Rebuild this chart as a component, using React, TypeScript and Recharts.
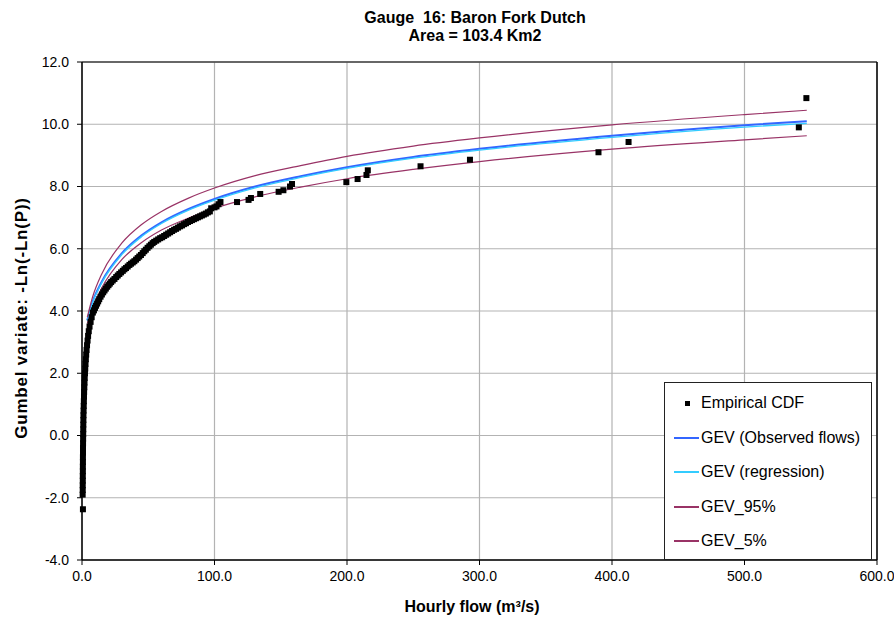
import React from "react"
import {
  ComposedChart,
  Line,
  Scatter,
  XAxis,
  YAxis,
  CartesianGrid,
  ReferenceLine,
  Legend,
} from "recharts"

// Empirical CDF (flow m3/s vs Gumbel variate)
// near-vertical part close to zero flow
const lowFlow = [
  0.7, 0.5, 0.55, 0.55, 0.6, 0.6, 0.65, 0.65, 0.7, 0.7, 0.75, 0.75, 0.8, 0.85, 0.9, 0.95, 1.0,
  1.05, 1.1, 1.2, 1.3, 1.4, 1.5, 1.6, 1.75, 1.9, 2.05, 2.25, 2.45, 2.65, 2.9, 3.15, 3.45, 3.8,
  4.2, 4.6, 5.1, 5.7, 6.5, 7.3,
]
const lowGumbel = [
  -2.37, -1.9, -1.75, -1.6, -1.45, -1.3, -1.15, -1.0, -0.85, -0.7, -0.55, -0.4, -0.25, -0.1,
  0.05, 0.2, 0.35, 0.5, 0.65, 0.8, 0.95, 1.1, 1.25, 1.4, 1.55, 1.7, 1.85, 2.0, 2.15, 2.3, 2.45,
  2.6, 2.75, 2.9, 3.05, 3.2, 3.35, 3.5, 3.65, 3.8,
]
// the bend, up to ~105 m3/s
const midFlow = [
  8.2, 9, 9.8, 10.6, 11.4, 12.2, 13, 14, 15, 16, 17, 18, 19, 20, 21, 22, 23.2, 24.5, 25.8, 27,
  28.2, 29.5, 30.8, 32, 33.2, 34.5, 35.8, 37, 38.3, 39.5, 40.8, 42, 43.2, 44.5, 45.8, 47, 48.2,
  49.5, 50.8, 52, 53.3, 54.5, 56, 57.5, 59, 60.5, 62, 63.5, 65, 66.5, 68, 69.5, 71, 72.5, 74,
  75.5, 77, 78.5, 80, 81.5, 83, 84.5, 86, 87.5, 89, 90.5, 92, 93.5, 95, 96.5, 97.5, 100, 101.5,
  103, 104.5,
]
const midGumbel = [
  3.95, 4.02, 4.1, 4.17, 4.24, 4.31, 4.38, 4.46, 4.53, 4.6, 4.66, 4.72, 4.78, 4.83, 4.88, 4.93,
  4.98, 5.03, 5.09, 5.14, 5.19, 5.24, 5.29, 5.34, 5.38, 5.43, 5.48, 5.52, 5.56, 5.6, 5.65, 5.7,
  5.75, 5.8, 5.86, 5.92, 5.97, 6.03, 6.08, 6.13, 6.18, 6.22, 6.26, 6.3, 6.34, 6.37, 6.41, 6.45,
  6.49, 6.53, 6.57, 6.61, 6.64, 6.68, 6.72, 6.75, 6.79, 6.82, 6.86, 6.89, 6.92, 6.95, 6.98,
  7.01, 7.04, 7.07, 7.1, 7.13, 7.17, 7.2, 7.3, 7.33, 7.36, 7.43, 7.5,
]
// isolated large events
const highFlow = [
  117, 125.7, 127.5, 134.5, 148.4, 152, 157, 158.5, 199.5, 208, 214.7, 215.7, 255.5, 292.8,
  389.8, 412.5, 541, 546.7,
]
const highGumbel = [
  7.5, 7.57, 7.63, 7.76, 7.83, 7.88, 8.0, 8.08, 8.14, 8.24, 8.37, 8.52, 8.65, 8.86, 9.1, 9.43,
  9.9, 10.84,
]

// fitted GEV curves
const gevFlow = [4, 8, 15, 30, 45, 60, 80, 100, 130, 165, 200, 250, 300, 400, 500, 547]
const gevObserved = [3.7, 4.3, 4.95, 5.85, 6.43, 6.85, 7.27, 7.6, 7.99, 8.33, 8.62, 8.95, 9.21, 9.63, 9.97, 10.1]
const gevRegression = [3.68, 4.27, 4.91, 5.81, 6.39, 6.81, 7.23, 7.56, 7.95, 8.29, 8.58, 8.91, 9.17, 9.58, 9.91, 10.03]
const gev95 = [3.8, 4.45, 5.2, 6.18, 6.78, 7.2, 7.62, 7.95, 8.34, 8.67, 8.97, 9.3, 9.56, 9.98, 10.31, 10.45]
const gev5 = [3.6, 4.1, 4.75, 5.65, 6.2, 6.6, 6.98, 7.3, 7.66, 7.98, 8.25, 8.55, 8.8, 9.2, 9.5, 9.63]

const xTicks = [0, 100, 200, 300, 400, 500, 600]
const yTicks = [-4, -2, 0, 2, 4, 6, 8, 10, 12]
const legendOrder = ["Empirical CDF", "GEV (Observed flows)", "GEV (regression)", "GEV_95%", "GEV_5%"]

const empData = [
  ...lowFlow.map((f, i) => ({ flow: f, g: lowGumbel[i] })),
  ...midFlow.map((f, i) => ({ flow: f, g: midGumbel[i] })),
  ...highFlow.map((f, i) => ({ flow: f, g: highGumbel[i] })),
]
const gevData = gevFlow.map((f, i) => ({
  flow: f,
  obs: gevObserved[i],
  reg: gevRegression[i],
  p95: gev95[i],
  p5: gev5[i],
}))

const font = "'Liberation Sans', Arial, sans-serif"

const SquareDot = (props: any) => (
  <rect x={props.cx - 3} y={props.cy - 3} width={6} height={6} fill="#000" />
)

const renderLegend = (props: any) => {
  const items = [...(props.payload || [])].sort(
    (a: any, b: any) => legendOrder.indexOf(a.value) - legendOrder.indexOf(b.value)
  )
  return (
    <div
      style={{
        width: 206,
        height: 173,
        border: "1px solid #222",
        background: "#fff",
        paddingTop: 3,
        fontFamily: font,
        fontSize: 16,
        boxSizing: "content-box",
      }}
    >
      {items.map((it: any) => (
        <div key={it.value} style={{ height: 34.5, display: "flex", alignItems: "center" }}>
          <div style={{ width: 36, position: "relative", height: 10 }}>
            {it.type === "square" ? (
              <div style={{ position: "absolute", left: 20, top: 2.5, width: 5, height: 5, background: "#000" }} />
            ) : (
              <div style={{ position: "absolute", left: 9, top: 4, width: 25, height: 2, background: it.color }} />
            )}
          </div>
          <span style={{ color: "#000", whiteSpace: "nowrap" }}>{it.value}</span>
        </div>
      ))}
    </div>
  )
}

export default function App() {
  return (
    <div style={{ position: "absolute", left: 0, top: 0, width: 894, height: 621, background: "#fff" }}>
      <div
        style={{
          position: "absolute",
          left: 275,
          top: 9,
          width: 400,
          textAlign: "center",
          fontFamily: font,
          fontWeight: "bold",
          fontSize: 16,
          lineHeight: "18px",
          whiteSpace: "pre",
        }}
      >
        {"Gauge  16: Baron Fork Dutch\nArea = 103.4 Km2"}
      </div>
      <ComposedChart
        width={894}
        height={621}
        data={gevData}
        margin={{ top: 62, right: 17, bottom: 0, left: 22 }}
      >
        <CartesianGrid stroke="#b3b3b3" strokeWidth={1.2} />
        <XAxis
          type="number"
          dataKey="flow"
          domain={[0, 600]}
          ticks={xTicks}
          tickFormatter={(v: number) => v.toFixed(1)}
          height={61}
          tick={{ fill: "#000", fontSize: 14, fontFamily: font }}
          tickSize={5}
          tickMargin={6}
          axisLine={{ stroke: "#000", strokeWidth: 1.5 }}
          tickLine={{ stroke: "#000" }}
        />
        <YAxis
          type="number"
          domain={[-4, 12]}
          ticks={yTicks}
          tickFormatter={(v: number) => v.toFixed(1)}
          width={60}
          tick={{ fill: "#000", fontSize: 14, fontFamily: font }}
          tickSize={5}
          tickMargin={8}
          axisLine={{ stroke: "#000", strokeWidth: 1.5 }}
          tickLine={{ stroke: "#000" }}
        />
        <ReferenceLine y={12} stroke="#404040" strokeWidth={1.5} />
        <ReferenceLine x={600} stroke="#000" strokeWidth={1.5} />
        <Scatter
          name="Empirical CDF"
          data={empData}
          dataKey="g"
          fill="#000"
          shape={SquareDot}
          legendType="square"
          isAnimationActive={false}
        />
        <Line
          name="GEV (Observed flows)"
          dataKey="obs"
          type="monotone"
          stroke="#3366ff"
          strokeWidth={2}
          dot={false}
          legendType="line"
          isAnimationActive={false}
        />
        <Line
          name="GEV (regression)"
          dataKey="reg"
          type="monotone"
          stroke="#33ccff"
          strokeWidth={1.3}
          dot={false}
          legendType="line"
          isAnimationActive={false}
        />
        <Line
          name="GEV_95%"
          dataKey="p95"
          type="monotone"
          stroke="#993366"
          strokeWidth={1.2}
          dot={false}
          legendType="line"
          isAnimationActive={false}
        />
        <Line
          name="GEV_5%"
          dataKey="p5"
          type="monotone"
          stroke="#993366"
          strokeWidth={1.2}
          dot={false}
          legendType="line"
          isAnimationActive={false}
        />
        <Legend
          layout="vertical"
          align="center"
          verticalAlign="middle"
          content={renderLegend}
          wrapperStyle={{ left: 664, top: 382, width: 208, height: 177 }}
        />
      </ComposedChart>
      <div
        style={{
          position: "absolute",
          left: 272,
          top: 598,
          width: 400,
          textAlign: "center",
          fontFamily: font,
          fontWeight: "bold",
          fontSize: 16,
          lineHeight: "18px",
        }}
      >
        Hourly flow (m³/s)
      </div>
      <div
        style={{
          position: "absolute",
          left: 22 - 150,
          top: 318 - 9,
          width: 300,
          textAlign: "center",
          fontFamily: font,
          fontWeight: "bold",
          fontSize: 17,
          letterSpacing: 0.8,
          lineHeight: "18px",
          transform: "rotate(-90deg)",
        }}
      >
        Gumbel variate: -Ln(-Ln(P))
      </div>
    </div>
  )
}
